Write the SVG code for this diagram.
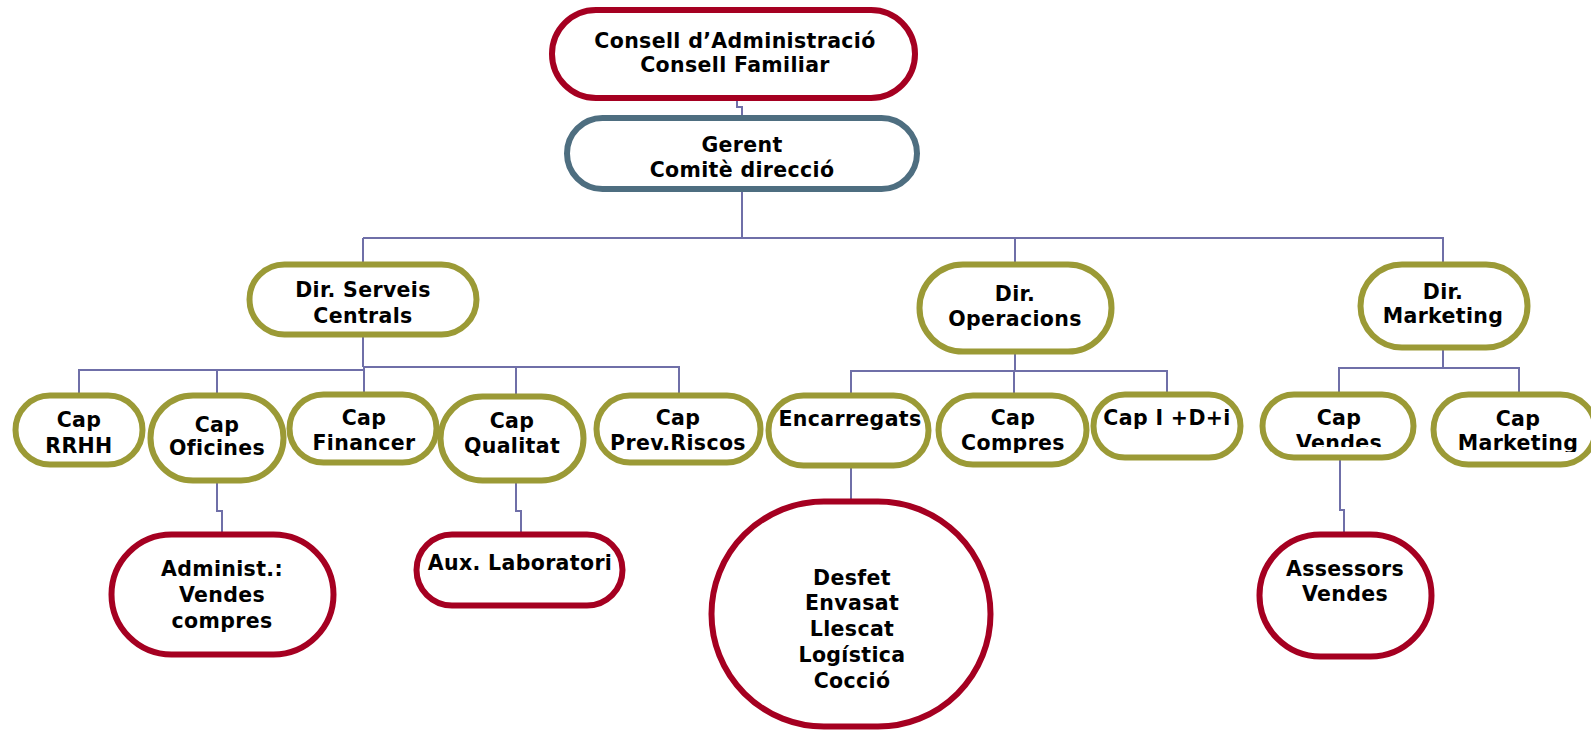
<svg xmlns="http://www.w3.org/2000/svg" width="1591" height="730" viewBox="0 0 1591 730">
<style>
text{font-family:"DejaVu Sans",Verdana,sans-serif;font-weight:bold;font-size:20.5px;letter-spacing:0.35px;fill:#000;text-anchor:middle}
.r{fill:#fff;stroke:#a50021;stroke-width:6}
.o{fill:#fff;stroke:#9b9a36;stroke-width:6}
.s{fill:#fff;stroke:#4e6e80;stroke-width:6}
.c{fill:none;stroke:#6f6fa8;stroke-width:2}
</style>
<defs>
<clipPath id="clipCompres" clipPathUnits="userSpaceOnUse"><rect x="900" y="380" width="230" height="73"/></clipPath>
<clipPath id="clipPrev" clipPathUnits="userSpaceOnUse"><rect x="580" y="380" width="200" height="75"/></clipPath>
<clipPath id="clipVendes" clipPathUnits="userSpaceOnUse"><rect x="1250" y="380" width="180" height="67"/></clipPath>
<clipPath id="clipMkt" clipPathUnits="userSpaceOnUse"><rect x="1420" y="380" width="180" height="72"/></clipPath>
</defs>
<g id="connectors" class="c">
<path d="M737,101 V107 H742 V116"/>
<path d="M742,191 V238 M363,238 H1443 V262 M363,238 V262 M1015,238 V262"/>
<path d="M363,337 V367 M79,393 V370 H363 M363,367 H679 V393 M364,367 V392 M217,370 V393 M516,367 V394"/>
<path d="M1015,354 V371 M851,393 V371 H1167 V392 M1014,371 V393"/>
<path d="M1443,348 V368 M1339,392 V368 H1519 V392"/>
<path d="M217,483 V511 H222 V534"/>
<path d="M516,483 V511 H521 V534"/>
<path d="M851,468 V501"/>
<path d="M1340,459 V510 H1344 V533"/>
</g>
<g id="consell"><rect class="r" x="552" y="10" width="363" height="88" rx="44"/><text x="735" y="48">Consell d’Administració</text><text x="735" y="72">Consell Familiar</text></g>
<g id="gerent"><rect class="s" x="567" y="118" width="350" height="71" rx="35.5"/><text x="742" y="152">Gerent</text><text x="742" y="177">Comitè direcció</text></g>
<g id="dir-serveis"><rect class="o" x="249.5" y="264.5" width="227" height="70" rx="35"/><text x="363" y="297">Dir. Serveis</text><text x="363" y="323">Centrals</text></g>
<g id="dir-operacions"><rect class="o" x="919.5" y="264.5" width="192" height="87" rx="43.5"/><text x="1015" y="301">Dir.</text><text x="1015" y="326">Operacions</text></g>
<g id="dir-marketing"><rect class="o" x="1360.5" y="264.5" width="167" height="83" rx="41.5"/><text x="1443" y="299">Dir.</text><text x="1443" y="323">Marketing</text></g>
<g id="cap-rrhh"><rect class="o" x="15.5" y="395.5" width="127" height="69" rx="34.5"/><text x="79" y="427">Cap</text><text x="79" y="453">RRHH</text></g>
<g id="cap-oficines"><rect class="o" x="150.5" y="395.5" width="133" height="85" rx="42.5"/><text x="217" y="432">Cap</text><text x="217" y="455">Oficines</text></g>
<g id="cap-financer"><rect class="o" x="289.5" y="394.5" width="147" height="68" rx="34"/><text x="364" y="425">Cap</text><text x="364" y="450">Financer</text></g>
<g id="cap-qualitat"><rect class="o" x="440.5" y="396.5" width="143" height="84" rx="42"/><text x="512" y="428">Cap</text><text x="512" y="453">Qualitat</text></g>
<g id="cap-prev"><rect class="o" x="596.5" y="395.5" width="164" height="67" rx="33.5"/><text x="678" y="425">Cap</text><text x="678" y="450" clip-path="url(#clipPrev)">Prev.Riscos</text></g>
<g id="encarregats"><rect class="o" x="768.5" y="395.5" width="160" height="70" rx="35"/><text x="850" y="426">Encarregats</text></g>
<g id="cap-compres"><rect class="o" x="938.5" y="395.5" width="148" height="69" rx="34.5"/><text x="1013" y="425">Cap</text><text x="1013" y="450" clip-path="url(#clipCompres)">Compres</text></g>
<g id="cap-idi"><rect class="o" x="1093.5" y="394.5" width="147" height="63" rx="31.5"/><text x="1167" y="425">Cap I +D+i</text></g>
<g id="cap-vendes"><rect class="o" x="1262.5" y="394.5" width="151" height="63" rx="31.5"/><text x="1339" y="425">Cap</text><text x="1339" y="450" clip-path="url(#clipVendes)">Vendes</text></g>
<g id="cap-marketing"><rect class="o" x="1433.5" y="394.5" width="162" height="70" rx="35"/><text x="1518" y="426">Cap</text><text x="1518" y="450" clip-path="url(#clipMkt)">Marketing</text></g>
<g id="administ"><rect class="r" x="111.5" y="534.5" width="222" height="120" rx="60"/><text x="222" y="576">Administ.:</text><text x="222" y="602">Vendes</text><text x="222" y="628">compres</text></g>
<g id="aux-lab"><rect class="r" x="416.5" y="534.5" width="206" height="71" rx="35.5"/><text x="520" y="570">Aux. Laboratori</text></g>
<g id="operaris"><rect class="r" x="711.5" y="501.5" width="279" height="225" rx="112.5"/><text x="852" y="585">Desfet</text><text x="852" y="610">Envasat</text><text x="852" y="636">Llescat</text><text x="852" y="662">Logística</text><text x="852" y="688">Cocció</text></g>
<g id="assessors"><rect class="r" x="1259.5" y="534.5" width="172" height="122" rx="61"/><text x="1345" y="576">Assessors</text><text x="1345" y="601">Vendes</text></g>
</svg>
